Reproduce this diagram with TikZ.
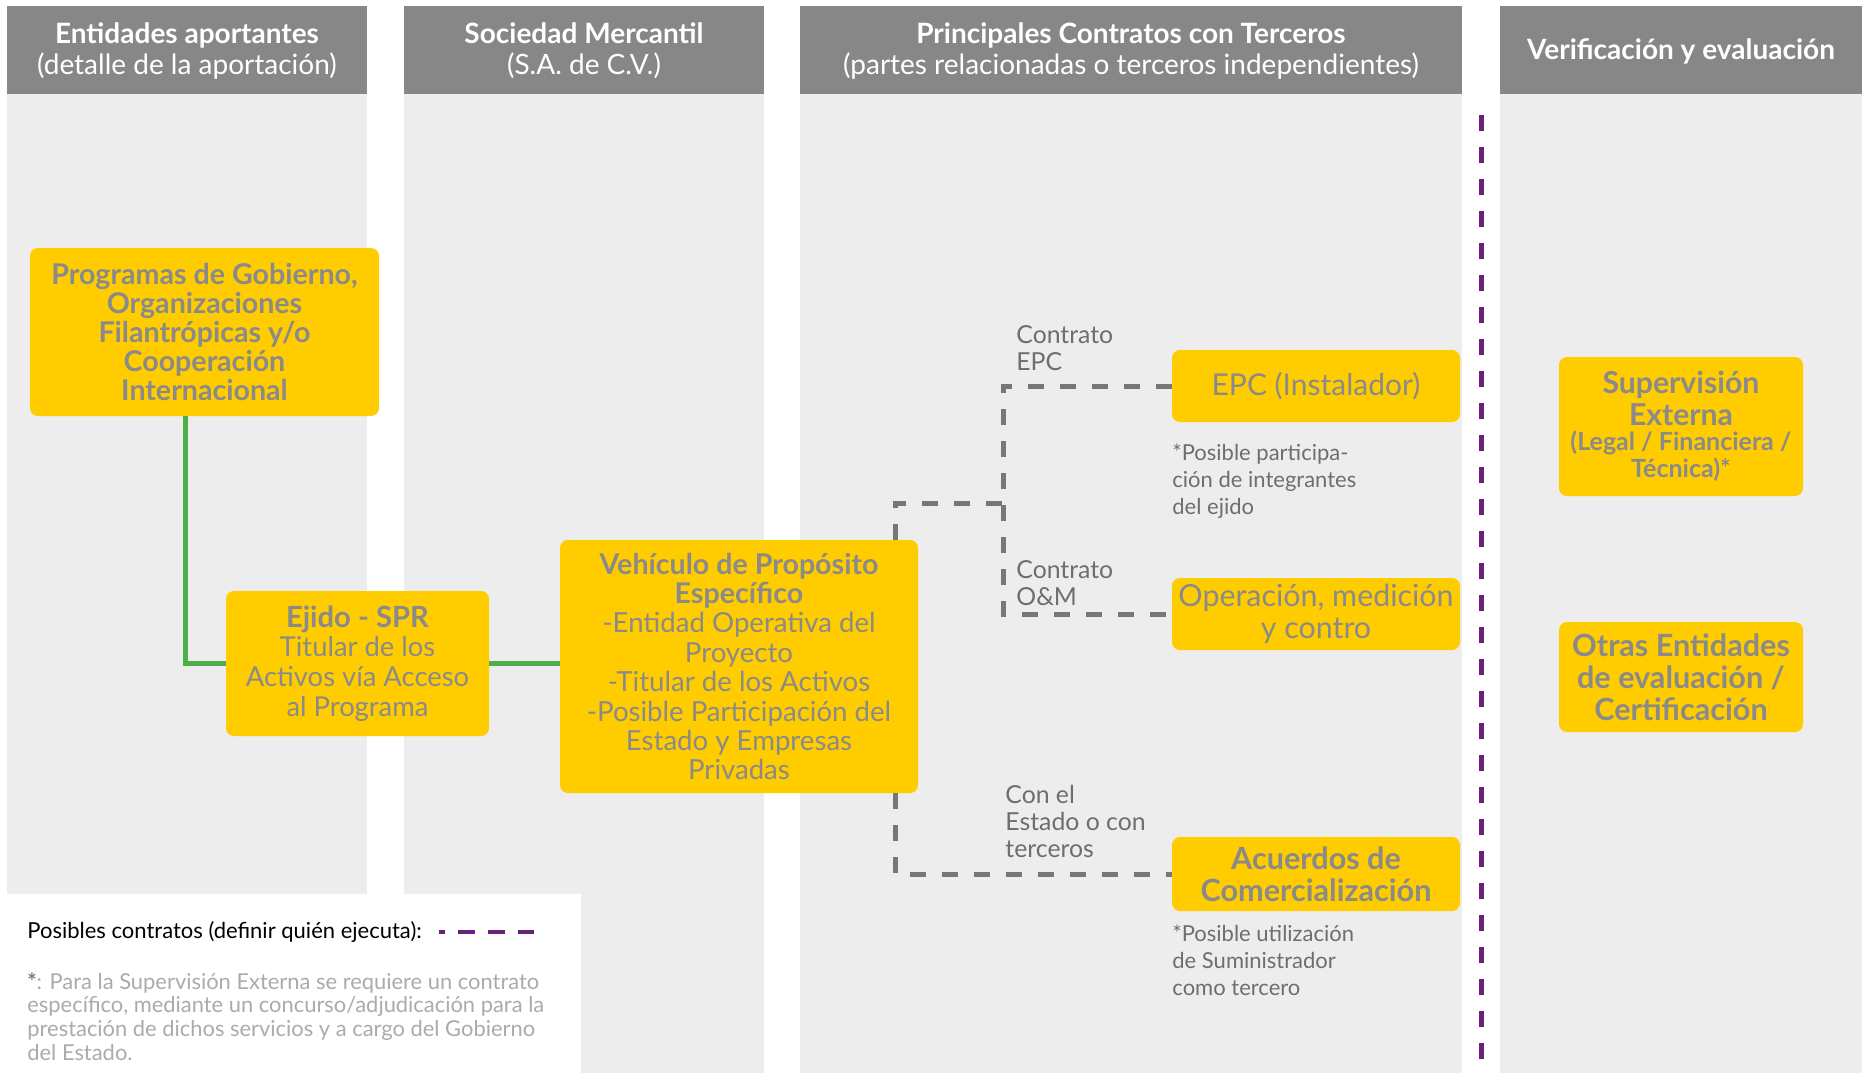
\documentclass[tikz,border=0pt]{standalone}
\usepackage{fontspec}
\setmainfont{Lato}
\usetikzlibrary{calc}
\definecolor{hdr}{HTML}{878787}
\definecolor{colbg}{HTML}{EDEDED}
\definecolor{ybox}{HTML}{FFCC00}
\definecolor{boxtxt}{HTML}{8A8A8A}
\definecolor{lbltxt}{HTML}{6E6E6E}
\definecolor{gline}{HTML}{4DAF4A}
\definecolor{dline}{HTML}{777777}
\definecolor{pline}{HTML}{6C1F7D}
\definecolor{foot}{HTML}{ABABAB}
\begin{document}
\begin{tikzpicture}[x=0.5pt,y=-0.5pt,
  hdrtext/.style={text=white,align=center,inner sep=0pt,font=\fontsize{14}{15.5}\selectfont},
  ybx/.style={fill=ybox,rounded corners=4pt,inner sep=2pt,align=center,text=boxtxt},
  lbl/.style={text=lbltxt,align=left,inner sep=0pt,anchor=west,font=\fontsize{12.4}{13.5}\selectfont},
  note/.style={text=lbltxt,align=left,inner sep=0pt,anchor=west,font=\fontsize{11}{13.5}\selectfont},
  greenln/.style={draw=gline,line width=2.5pt},
  grayln/.style={draw=dline,line width=2.5pt,dash pattern=on 8pt off 8pt},
  purpln/.style={draw=pline,line width=2.5pt,dash pattern=on 8pt off 8pt}]
\useasboundingbox (0,0) rectangle (1864,1073);
\fill[white] (0,0) rectangle (1864,1073);
% columns
\fill[hdr] (7,6) rectangle (367,94);
\fill[colbg] (7,94) rectangle (367,894);
\fill[hdr] (404,6) rectangle (764,94);
\fill[colbg] (404,94) rectangle (764,1073);
\fill[hdr] (800,6) rectangle (1462,94);
\fill[colbg] (800,94) rectangle (1462,1073);
\fill[hdr] (1500,6) rectangle (1862,94);
\fill[colbg] (1500,94) rectangle (1862,1073);
\fill[white] (0,894) rectangle (581,1073);
% headers
\node[hdrtext] (h1) at (187,50.5) {\textbf{Entidades aportantes}\\(detalle de la aportación)};
\node[hdrtext] (h2) at (584,50.5) {\textbf{Sociedad Mercantil}\\(S.A. de C.V.)};
\node[hdrtext] (h3) at (1131,50.5) {\textbf{Principales Contratos con Terceros}\\(partes relacionadas o terceros independientes)};
\node[hdrtext] (h4) at (1681,51) {\textbf{Verificación y evaluación}};
% boxes
\node[ybx,minimum width=174.5pt,minimum height=84pt,font=\bfseries\fontsize{14.3}{14.6}\selectfont] (prog) at (204.5,332)
  {Programas de Gobierno,\\Organizaciones\\Filantrópicas y/o\\Cooperación\\Internacional};
\node[ybx,minimum width=131.5pt,minimum height=72.5pt,font=\fontsize{13.7}{14.9}\selectfont] (ejido) at (357.5,663.5)
  {{\fontsize{14.6}{14.9}\selectfont\bfseries Ejido - SPR}\\Titular de los\\Activos vía Acceso\\al Programa};
\node[ybx,minimum width=179pt,minimum height=126.5pt,font=\fontsize{13.8}{14.7}\selectfont] (veh) at (739,666.5)
  {{\fontsize{14.3}{14.7}\selectfont\bfseries Vehículo de Propósito}\\{\fontsize{14.3}{14.7}\selectfont\bfseries Específico}\\-Entidad Operativa del\\Proyecto\\-Titular de los Activos\\-Posible Participación del\\Estado y Empresas\\Privadas};
\node[ybx,minimum width=144pt,minimum height=36pt,font=\fontsize{15}{16}\selectfont] (epc) at (1316,386) {EPC (Instalador)};
\node[ybx,minimum width=144pt,minimum height=36pt,font=\fontsize{15.2}{16}\selectfont] (op) at (1316,614) {Operación, medición\\y contro};
\node[ybx,minimum width=144pt,minimum height=37pt,font=\bfseries\fontsize{15.3}{16}\selectfont] (acu) at (1316,874) {Acuerdos de\\Comercialización};
\node[ybx,minimum width=122pt,minimum height=69.5pt,font=\bfseries\fontsize{15.1}{16}\selectfont] (sup) at (1681,426.5)
  {Supervisión\\Externa\\[-3.5pt]{\fontsize{12.5}{13}\selectfont (Legal / Financiera /}\\[-2.5pt]{\fontsize{12.5}{13}\selectfont Técnica)*}};
\node[ybx,minimum width=122pt,minimum height=55pt,font=\bfseries\fontsize{15.3}{16}\selectfont] (otr) at (1681,677)
  {Otras Entidades\\de evaluación /\\Certificación};
% labels
\node[lbl] (l1) at (1016,348) {Contrato\\EPC};
\node[note] (l2) at (1172,481) {*Posible participa-\\ción de integrantes\\del ejido};
\node[lbl] (l3) at (1016,583) {Contrato\\O\&M};
\node[lbl] (l4) at (1005,821) {Con el\\Estado o con\\terceros};
\node[note] (l5) at (1172,960) {*Posible utilización\\de Suministrador\\como tercero};
% green connectors
\coordinate (g1) at (185.5,416);
\draw[greenln] (g1) |- (ejido.west);
\draw[greenln] (ejido.east) -- (ejido.east -| veh.west);
% gray dashed connectors
\coordinate (j1) at (895,503);
\coordinate (j2) at (1003,503);
\draw[grayln] (veh.north -| j1) |- (j2);
\draw[grayln] (epc.west) -| (op.west -| j2) -- (op.west);
\draw[grayln] (veh.south -| j1) |- (acu.west);
% purple dashed separator
\coordinate (p1) at (1481,115);
\coordinate (p2) at (1481,1062);
\draw[purpln] (p1) -- (p2);
% legend
\node[anchor=west,inner sep=0pt,text=black,font=\fontsize{11}{13}\selectfont] (leg) at (27,932) {Posibles contratos (definir quién ejecuta):};
\coordinate (lg1) at (439,932);
\coordinate (lg2) at (534,932);
\draw[draw=pline,line width=2.3pt,dash pattern=on 8.5pt off 6.5pt,dash phase=5.5pt] (lg1) -- (lg2);
\node[anchor=west,inner sep=0pt,text=foot,align=left,font=\fontsize{10.95}{11.9}\selectfont] (fn) at (27,1016.5)
  {{\color{dline}\textbf{*}}: Para la Supervisión Externa se requiere un contrato\\específico, mediante un concurso/adjudicación para la\\prestación de dichos servicios y a cargo del Gobierno\\del Estado.};
\end{tikzpicture}
\end{document}
